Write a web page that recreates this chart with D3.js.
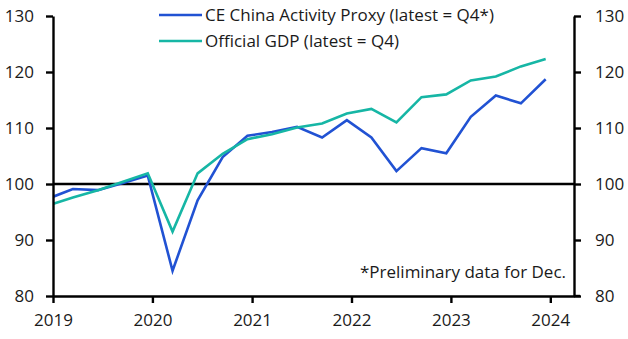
<!DOCTYPE html>
<html>
<head>
<meta charset="utf-8">
<script src="https://cdn.jsdelivr.net/npm/d3@7"></script>
<style>
  body { margin: 0; background: #fff; }
  text { font-family: "Open Sans", Lato, sans-serif; fill: #1a1a1a; }
</style>
</head>
<body>
<script>
var width = 628;
var height = 339;
var margin = {top: 16, right: 54, bottom: 43, left: 53};

// quarterly readings, stamped mid-month at quarter end
var quarters = ["2018-12-15", "2019-03-15", "2019-06-15", "2019-09-15", "2019-12-15",
                "2020-03-15", "2020-06-15", "2020-09-15", "2020-12-15",
                "2021-03-15", "2021-06-15", "2021-09-15", "2021-12-15",
                "2022-03-15", "2022-06-15", "2022-09-15", "2022-12-15",
                "2023-03-15", "2023-06-15", "2023-09-15", "2023-12-15"];
var proxy = [97.4, 99.1, 98.9, 100.2, 101.5,
             84.5, 97.1, 104.8, 108.6,
             109.3, 110.2, 108.3, 111.4,
             108.3, 102.3, 106.4, 105.5,
             112.0, 115.8, 114.4, 118.7];
var gdp = [96.2, 97.6, 98.9, 100.4, 101.9,
           91.5, 101.9, 105.4, 108.0,
           108.9, 110.1, 110.8, 112.6,
           113.4, 111.0, 115.5, 116.0,
           118.5, 119.2, 121.0, 122.3];
var yTicks = [80, 90, 100, 110, 120, 130];
var xTicks = [2019, 2020, 2021, 2022, 2023, 2024];
var seriesNames = ["CE China Activity Proxy (latest = Q4*)", "Official GDP (latest = Q4)"];
var colors = ["#2152d3", "#16b6a5"];

var parse = d3.timeParse("%Y-%m-%d");
var dates = quarters.map(parse);

var svg = d3.select("body").append("svg")
    .attr("width", width)
    .attr("height", height);

var x = d3.scaleTime()
    .domain([new Date(2019, 0, 1), new Date(2024, 2, 28)])
    .range([margin.left, width - margin.right]);
var y = d3.scaleLinear()
    .domain([80, 130])
    .range([height - margin.bottom, margin.top]);

svg.append("clipPath").attr("id", "plot")
  .append("rect")
    .attr("x", margin.left)
    .attr("y", margin.top - 10)
    .attr("width", width - margin.left - margin.right)
    .attr("height", height - margin.top - margin.bottom + 10);

// 100 baseline
svg.append("line")
    .attr("x1", margin.left).attr("x2", width - margin.right)
    .attr("y1", y(100)).attr("y2", y(100))
    .attr("stroke", "#000").attr("stroke-width", 2.4);

var line = d3.line()
    .x(function(d, i) { return x(dates[i]); })
    .y(function(d) { return y(d); });

[proxy, gdp].forEach(function(s, i) {
  svg.append("path")
      .datum(s)
      .attr("clip-path", "url(#plot)")
      .attr("fill", "none")
      .attr("stroke", colors[i])
      .attr("stroke-width", 2.6)
      .attr("stroke-linejoin", "miter")
      .attr("d", line);
});

// axes
function styleAxis(g) {
  g.select(".domain").attr("stroke", "#000").attr("stroke-width", 2.4);
  g.selectAll(".tick line").attr("stroke", "#000").attr("stroke-width", 2.4);
  g.selectAll(".tick text").style("font-size", "17px").attr("fill", "#1a1a1a");
}

svg.append("g")
    .attr("transform", "translate(" + margin.left + ",0)")
    .call(d3.axisLeft(y).tickValues(yTicks).tickSize(7).tickSizeOuter(0).tickPadding(12))
    .call(styleAxis);

svg.append("g")
    .attr("transform", "translate(" + (width - margin.right) + ",0)")
    .call(d3.axisRight(y).tickValues(yTicks).tickSize(7).tickSizeOuter(0).tickPadding(14))
    .call(styleAxis);

svg.append("g")
    .attr("transform", "translate(0," + y(80) + ")")
    .call(d3.axisBottom(x)
      .tickValues(xTicks.map(function(v) { return new Date(v, 0, 1); }))
      .tickFormat(d3.timeFormat("%Y"))
      .tickSize(7).tickSizeOuter(0).tickPadding(11))
    .call(styleAxis);

// extend the x-axis past the right spine a little
svg.append("line")
    .attr("x1", width - margin.right).attr("x2", width - margin.right + 6)
    .attr("y1", y(80)).attr("y2", y(80))
    .attr("stroke", "#000").attr("stroke-width", 2.4);

// legend
var legend = svg.append("g");
seriesNames.forEach(function(name, i) {
  var ly = 15 + i * 26;
  legend.append("line")
      .attr("x1", 159).attr("x2", 202)
      .attr("y1", ly).attr("y2", ly)
      .attr("stroke", colors[i]).attr("stroke-width", 2.6);
  legend.append("text")
      .attr("x", 205).attr("y", ly)
      .attr("dy", "0.35em")
      .style("font-size", "17px")
      .text(name);
});

svg.append("text")
    .attr("x", 566).attr("y", 278)
    .attr("text-anchor", "end")
    .style("font-size", "17px")
    .text("*Preliminary data for Dec.");
</script>
</body>
</html>
